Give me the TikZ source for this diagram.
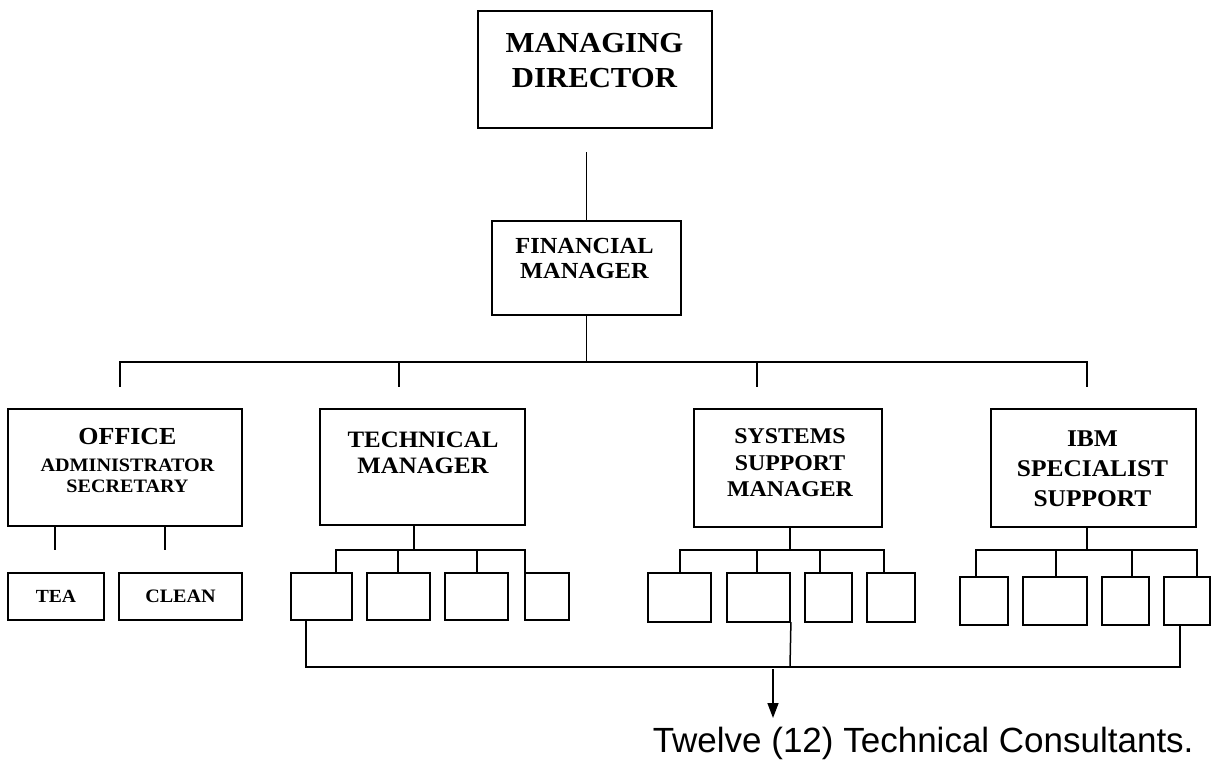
\documentclass[tikz,border=0pt]{standalone}
\usepackage{fontspec}
\setmainfont[FakeStretch=1.06]{Liberation Serif}
\newfontfamily\notefont{Liberation Sans}
\usetikzlibrary{arrows.meta}

\tikzset{
  box/.style={draw,line width=1.8pt,inner sep=0pt},
  title/.style={align=center,inner sep=0pt,anchor=north}
}

\begin{document}
\begin{tikzpicture}[x=1pt,y=-1pt,line width=1.5pt,line cap=rect,>={Triangle[length=15pt,width=11pt]}]
\useasboundingbox (0,0) rectangle (1213,773);
\node[box,minimum width=234pt,minimum height=117pt] (md) at (595,69.5) {};
\node[box,minimum width=189pt,minimum height=94pt] (fm) at (586.5,268) {};
\node[box,minimum width=234pt,minimum height=117pt] (off) at (125,467.5) {};
\node[box,minimum width=205pt,minimum height=116pt] (tm) at (422.5,467) {};
\node[box,minimum width=188pt,minimum height=118pt] (ssm) at (788,468) {};
\node[box,minimum width=205pt,minimum height=118pt] (ibm) at (1093.5,468) {};
\node[box,minimum width=96pt,minimum height=47pt,font=\bfseries\fontsize{18.5}{20}\selectfont] (tea) at (56,596.5) {TEA};
\node[box,minimum width=123pt,minimum height=47pt,font=\bfseries\fontsize{19}{20}\selectfont] (clean) at (180.5,596.5) {CLEAN};
\foreach \n/\cx/\w in {t1/321.5/61,t2/398.5/63,t3/476.5/63,t4/547/44}
  \node[box,minimum width=\w pt,minimum height=47pt] (\n) at (\cx,596.5) {};
\foreach \n/\cx/\w in {s1/679.5/63,s2/758.5/63,s3/828.5/47,s4/891/48}
  \node[box,minimum width=\w pt,minimum height=49pt] (\n) at (\cx,597.5) {};
\foreach \n/\cx/\w in {i1/984/48,i2/1055/64,i3/1125.5/47,i4/1187/46}
  \node[box,minimum width=\w pt,minimum height=48pt] (\n) at (\cx,601) {};

\node[title,font=\bfseries\fontsize{29}{35}\selectfont] (md-t) at (594.5,33) {MANAGING\\DIRECTOR};
\node[title,font=\bfseries\fontsize{23}{25}\selectfont] (fm-t) at (584.5,238) {FINANCIAL\\MANAGER};
\node[title,font=\bfseries\fontsize{19}{21}\selectfont] (off-t) at (127.5,428) {{\fontsize{24.5}{27}\selectfont OFFICE}\\[6pt]ADMINISTRATOR\\SECRETARY};
\node[title,font=\bfseries\fontsize{23.5}{26}\selectfont] (tm-t) at (423,431) {TECHNICAL\\MANAGER};
\node[title,font=\bfseries\fontsize{22.5}{26.5}\selectfont] (ssm-t) at (790,428) {SYSTEMS\\SUPPORT\\MANAGER};
\node[title,font=\bfseries\fontsize{24}{30}\selectfont] (ibm-t) at (1092.5,430) {IBM\\SPECIALIST\\SUPPORT};

\draw[shorten <=24pt] (md.south -| fm.north) -- (fm.north);
\coordinate (fm-bus) at (fm.south |- 0,362);
\draw (fm.south) -- (fm-bus);
\draw (fm-bus -| 120,0) -- (fm-bus -| 1087,0);
\foreach \d/\dx in {off/120,tm/399,ssm/757,ibm/1087}
  \draw[shorten >=22pt] (fm-bus -| \dx,0) -- (\d.north -| \dx,0);
\foreach \c/\dx in {tea/55,clean/165}
  \draw[shorten >=23pt] (off.south -| \dx,0) -- (\c.north -| \dx,0);

\foreach \p/\sx/\l/\r in {tm/414/336/525,ssm/790/680/884,ibm/1087/976/1197} {
  \coordinate (\p-bus) at (\sx,550);
  \draw (\p.south -| \p-bus) -- (\p-bus);
  \draw (\p-bus -| \l,0) -- (\p-bus -| \r,0);
}
\foreach \p/\c/\dx in {tm/t1/336,tm/t2/398,tm/t3/477,tm/t4/525,ssm/s1/680,ssm/s2/757,ssm/s3/820,ssm/s4/884,ibm/i1/976,ibm/i2/1056,ibm/i3/1132,ibm/i4/1197}
  \draw (\p-bus -| \dx,0) -- (\c.north -| \dx,0);

\coordinate (tc-bus) at (790,667);
\draw (t1.south -| 306,0) -- (tc-bus -| 306,0) -- (tc-bus -| 1180,0) -- (i4.south -| 1180,0);
\draw (s2.south east) -- (tc-bus);
\coordinate (tip) at (773,718);
\draw[->,shorten <=3pt] (tc-bus -| tip) -- (tip);
\node[anchor=base west,inner sep=0pt,font=\notefont\fontsize{35}{38}\selectfont] (note) at (652,752) {Twelve (12) Technical Consultants.};
\end{tikzpicture}
\end{document}
